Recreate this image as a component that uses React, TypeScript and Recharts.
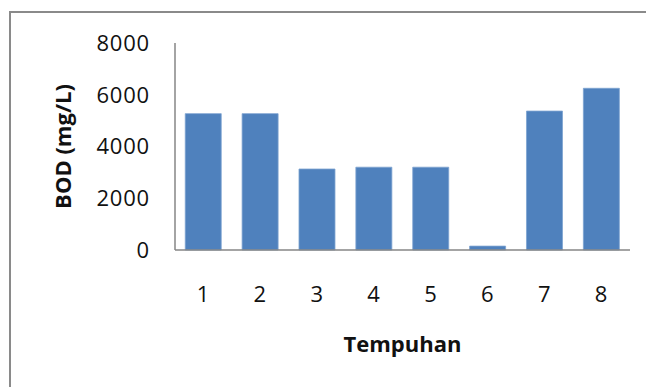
import React from 'react';
import { BarChart, Bar, XAxis, YAxis, Label } from 'recharts';

const tempuhan = ['1', '2', '3', '4', '5', '6', '7', '8'];
const bodValues = [5270, 5270, 3130, 3200, 3200, 150, 5370, 6250];
const yTicks = [0, 2000, 4000, 6000, 8000];

const data = tempuhan.map((t, i) => ({ tempuhan: t, bod: bodValues[i] }));

const FONT = '"Open Sans", "Liberation Sans", sans-serif';
const AXIS_COLOR = '#868686';

// Rotated y-axis title, placed to the left of the tick labels
const YTitle = (props: any) => {
  const { viewBox } = props;
  const cx = viewBox.x + 62;
  const cy = viewBox.y + viewBox.height / 2;
  return (
    <text
      x={cx}
      y={cy}
      transform={`rotate(-90, ${cx}, ${cy})`}
      textAnchor="middle"
      dominantBaseline="central"
      fontFamily={FONT}
      fontWeight={700}
      fontSize={22}
      fill="#111"
    >
      BOD (mg/L)
    </text>
  );
};

const App: React.FC = () => {
  return (
    <div style={{ position: 'absolute', left: 0, top: 0, width: 646, height: 387, background: '#fff', overflow: 'hidden' }}>
      <div
        style={{
          position: 'absolute',
          left: 9,
          top: 11,
          width: 700,
          height: 450,
          borderTop: '2px solid #8a8a8a',
          borderLeft: '2px solid #8a8a8a',
        }}
      />
      <div style={{ position: 'absolute', left: 0, top: 0 }}>
        <BarChart
          width={646}
          height={387}
          data={data}
          margin={{ top: 43, right: 16, left: 0, bottom: 35 }}
          barCategoryGap="18%"
        >
          <XAxis
            dataKey="tempuhan"
            height={102}
            tickLine={false}
            tickSize={0}
            tickMargin={36}
            axisLine={{ stroke: AXIS_COLOR, strokeWidth: 1.5 }}
            tick={{ fontFamily: FONT, fontSize: 22, fill: '#111', letterSpacing: 0.8 }}
          >
            <Label
              value="Tempuhan"
              position="insideBottom"
              offset={0}
              style={{ fontFamily: FONT, fontWeight: 700, fontSize: 22, fill: '#111' }}
            />
          </XAxis>
          <YAxis
            width={175}
            domain={[0, 8000]}
            ticks={yTicks}
            interval={0}
            tickLine={false}
            tickSize={0}
            tickMargin={25}
            axisLine={{ stroke: AXIS_COLOR, strokeWidth: 1.5 }}
            tick={{ fontFamily: FONT, fontSize: 22, fill: '#111', letterSpacing: 0.8 }}
          >
            <Label content={<YTitle />} />
          </YAxis>
          <Bar dataKey="bod" fill="#4F81BD" stroke="#7ea3d0" strokeWidth={0.8} isAnimationActive={false} />
        </BarChart>
      </div>
    </div>
  );
};

export default App;
